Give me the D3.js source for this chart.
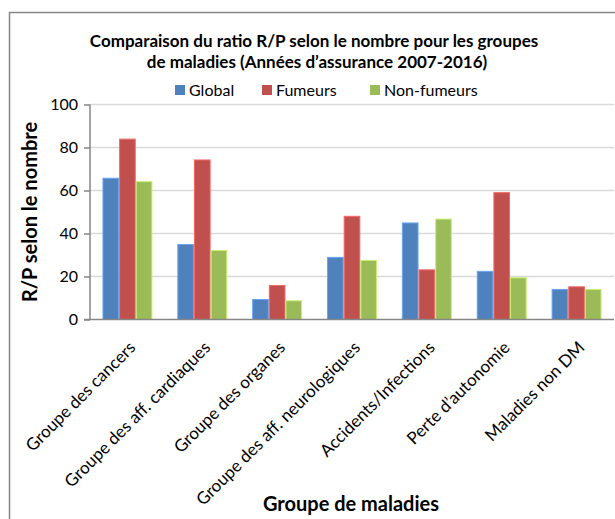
<!DOCTYPE html>
<html lang="fr">
<head>
<meta charset="utf-8">
<style>
  body { margin: 0; background: white; }
  svg { font-family: 'Lato', 'Open Sans', sans-serif; }
  .grid line { stroke: #d9d9d9; stroke-width: 1.5px; }
  .axis path, .axis line { stroke: #868686; stroke-width: 1.5px; }
  .axis text { fill: #000; }
  .title { font-weight: bold; font-size: 17px; }
  .axis-title { font-weight: bold; font-size: 20px; }
</style>
</head>
<body>
<svg width="615" height="519"></svg>
<script src="https://cdn.jsdelivr.net/npm/d3@7"></script>
<script>
const categories = ["Groupe des cancers", "Groupe des aff. cardiaques", "Groupe des organes",
  "Groupe des aff. neurologiques", "Accidents/Infections", "Perte d\u2019autonomie", "Maladies non DM"]
const seriesNames = ["Global", "Fumeurs", "Non-fumeurs"]
const globalVals = [65.7, 34.9, 9.3, 28.9, 44.9, 22.4, 14.0]
const fumeursVals = [83.9, 74.2, 15.8, 48.0, 23.1, 59.0, 15.2]
const nonFumeursVals = [64.1, 32.1, 8.7, 27.5, 46.7, 19.4, 14.0]
const yTicks = [0, 20, 40, 60, 80, 100]
const colors = ["#4f81bd", "#c0504d", "#9bbb59"]

const series = [globalVals, fumeursVals, nonFumeursVals]
const margin = { left: 90, right: 1, top: 104.5 }
const width = 615
const y0 = 319.5

const svg = d3.select("svg")

// outer frame (cut off right and bottom like the source)
svg.append("rect")
  .attr("x", 9.5).attr("y", 12.5)
  .attr("width", 700).attr("height", 600)
  .attr("fill", "none").attr("stroke", "#868686").attr("stroke-width", 1.5)

const x = d3.scaleBand()
  .domain(categories)
  .range([margin.left, width - margin.right])
  .paddingInner(0.333).paddingOuter(0.1665)

const xs = d3.scaleBand()
  .domain(d3.range(series.length))
  .range([0, x.bandwidth()])

const y = d3.scaleLinear().domain([0, 100]).range([y0, margin.top])

// gridlines
svg.append("g").attr("class", "grid")
  .selectAll("line")
  .data(yTicks.filter(d => d > 0))
  .join("line")
  .attr("x1", margin.left).attr("x2", width - margin.right)
  .attr("y1", d => y(d)).attr("y2", d => y(d))

// bars
const groups = svg.append("g").selectAll("g")
  .data(series)
  .join("g")
  .attr("fill", (d, i) => colors[i])
  .attr("stroke", (d, i) => d3.color(colors[i]).brighter(0.7))

groups.selectAll("rect")
  .data((vals, si) => vals.map((v, ci) => ({ v, ci, si })))
  .join("rect")
  .attr("x", d => x(categories[d.ci]) + xs(d.si) + 0.5)
  .attr("width", xs.bandwidth() - 1)
  .attr("y", d => y(d.v))
  .attr("height", d => y0 - y(d.v))
  .attr("stroke-width", 1)

// y axis
const yAxis = svg.append("g").attr("class", "axis")
  .attr("transform", "translate(" + margin.left + ",0)")
  .call(d3.axisLeft(y).tickValues(yTicks).tickSize(6).tickPadding(6))
yAxis.select(".domain").attr("d", "M0," + y(100) + "V" + y0)
yAxis.selectAll("text").style("font-size", "16px").style("font-family", "Lato")

// x axis
const xAxis = svg.append("g").attr("class", "axis")
  .attr("transform", "translate(0," + y0 + ")")
  .call(d3.axisBottom(x).tickSize(0).tickSizeOuter(0))
xAxis.select(".domain").attr("d", "M" + (margin.left - 6) + ",0H" + (width - margin.right))
xAxis.selectAll("text")
  .style("font-size", "17px").style("font-family", "Lato")
  .attr("text-anchor", "end")
  .attr("dy", "0.75em")
  .attr("transform", "translate(-2,18) rotate(-45)")

// title
const title = svg.append("text").attr("class", "title").attr("text-anchor", "middle")
title.append("tspan").attr("x", 314).attr("y", 47)
  .text("Comparaison du ratio R/P selon le nombre pour les groupes")
title.append("tspan").attr("x", 317).attr("y", 68)
  .text("de maladies (Ann\u00e9es d\u2019assurance 2007-2016)")

// legend
const legendX = [175, 262, 370]
const legend = svg.append("g").selectAll("g")
  .data(seriesNames)
  .join("g")
  .attr("transform", (d, i) => "translate(" + legendX[i] + ",85)")
legend.append("rect").attr("width", 10).attr("height", 10)
  .attr("fill", (d, i) => colors[i])
legend.append("text").attr("x", 14).attr("y", 11)
  .style("font-size", "16px").text(d => d)

// axis titles
svg.append("text").attr("class", "axis-title")
  .attr("text-anchor", "middle")
  .attr("transform", "translate(37," + ((y0 + margin.top) / 2) + ") rotate(-90)")
  .text("R/P selon le nombre")

svg.append("text").attr("class", "axis-title")
  .attr("text-anchor", "middle")
  .attr("x", 351).attr("y", 511)
  .text("Groupe de maladies")
</script>
</body>
</html>
